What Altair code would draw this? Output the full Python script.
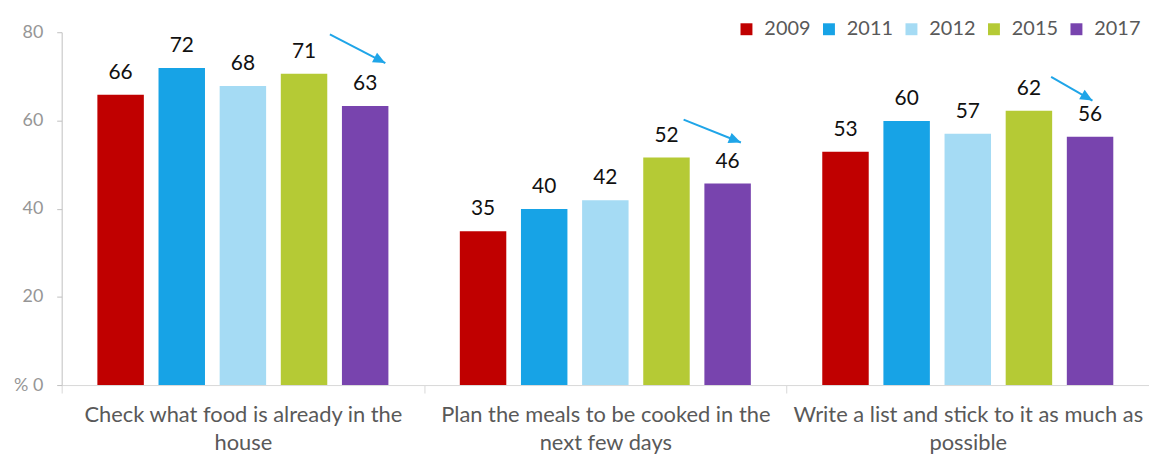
import math
import altair as alt
import pandas as pd

categories = [
    "Check what food is already in the house",
    "Plan the meals to be cooked in the next few days",
    "Write a list and stick to it as much as possible",
]
label_lines = [
    ["Check what food is already in the", "house"],
    ["Plan the meals to be cooked in the", "next few days"],
    ["Write a list and stick to it as much as", "possible"],
]
years = ["2009", "2011", "2012", "2015", "2017"]
colors = ["#C00000", "#17A3E6", "#A5DBF4", "#B5CA35", "#7844AE"]

v2009 = [65.8, 34.9, 52.9]
v2011 = [71.9, 39.9, 59.9]
v2012 = [67.8, 41.9, 57.0]
v2015 = [70.6, 51.6, 62.2]
v2017 = [63.3, 45.7, 56.3]

# trend arrows (data units: x = category index from 0 to 3, y = %)
arrow_x0 = [0.740, 1.716, 2.730]
arrow_y0 = [79.5, 60.2, 69.9]
arrow_x1 = [0.893, 1.874, 2.844]
arrow_y1 = [73.0, 55.0, 64.5]

W, H = 1094, 355
FONT = "Lato"

rows = []
for yr, vals in zip(years, [v2009, v2011, v2012, v2015, v2017]):
    for c, v in zip(categories, vals):
        rows.append({"category": c, "year": yr, "value": v})
df = pd.DataFrame(rows)

line_rows, tip_rows = [], []
for i in range(3):
    line_rows.append({"id": i, "order": 0, "ax": arrow_x0[i], "ay": arrow_y0[i]})
    line_rows.append({"id": i, "order": 1, "ax": arrow_x1[i], "ay": arrow_y1[i]})
    ang = math.degrees(math.atan2((arrow_y0[i] - arrow_y1[i]) * H / 80,
                                  (arrow_x1[i] - arrow_x0[i]) * W / 3))
    tip_rows.append({"id": i, "ax": arrow_x1[i], "ay": arrow_y1[i], "ang": ang})
lines_df = pd.DataFrame(line_rows)
tips_df = pd.DataFrame(tip_rows)

label_expr = " : ".join(
    f"datum.value == {c!r} ? {l!r}" for c, l in zip(categories, label_lines)
) + " : datum.label"

x_scale = alt.Scale(domain=categories, paddingInner=0, paddingOuter=0)
y_scale = alt.Scale(domain=[0, 80], nice=False)

x_enc = alt.X(
    "category:N",
    scale=x_scale,
    axis=alt.Axis(
        title=None, labelAngle=0, labelExpr=label_expr, labelFontSize=22,
        labelColor="#595959", labelFont=FONT, labelLineHeight=28,
        labelPadding=12, tickBand="extent", tickSize=8, tickColor="#d9d9d9",
        domainColor="#d9d9d9", labelLimit=400, grid=False,
    ),
)
xoff = alt.XOffset(
    "year:N", scale=alt.Scale(domain=years, paddingInner=0.24, paddingOuter=0.584)
)
y_enc = alt.Y(
    "value:Q",
    scale=y_scale,
    axis=alt.Axis(
        title=None, values=[0, 20, 40, 60, 80], grid=False,
        labelExpr="datum.value == 0 ? '% 0' : datum.label",
        labelFontSize=18, labelColor="#969696", labelFont=FONT,
        labelPadding=14, tickSize=5, tickColor="#bfbfbf", domainColor="#bfbfbf",
    ),
)

bars = alt.Chart(df).mark_bar().encode(
    x=x_enc,
    xOffset=xoff,
    y=y_enc,
    color=alt.Color(
        "year:N",
        scale=alt.Scale(domain=years, range=colors),
        legend=alt.Legend(
            title=None, orient="none", direction="horizontal",
            legendX=679, legendY=-13, symbolType="square", symbolSize=144,
            symbolStrokeWidth=0, labelFontSize=20, labelColor="#595959",
            labelFont=FONT, columnPadding=8, labelOffset=8, padding=0,
        ),
    ),
)

texts = alt.Chart(df).mark_text(
    baseline="alphabetic", dy=-16, fontSize=21, font=FONT, color="#111111"
).encode(
    x=alt.X("category:N", scale=x_scale),
    xOffset=xoff,
    y=alt.Y("value:Q", scale=y_scale),
    text=alt.Text("value:Q", format=".0f"),
)

base = alt.layer(bars, texts)

ax = alt.X("ax:Q", scale=alt.Scale(domain=[0, 3], nice=False, zero=False), axis=None)
ay = alt.Y("ay:Q", scale=alt.Scale(domain=[0, 80], nice=False), axis=None)

arrow_lines = alt.Chart(lines_df).mark_line(color="#1FA5E8", strokeWidth=2).encode(
    x=ax, y=ay, detail="id:N", order="order:Q"
)
arrow_tips = alt.Chart(tips_df).mark_point(
    shape="M0,0L-2,-0.9L-2,0.9Z", filled=True, size=150, opacity=1, color="#1FA5E8"
).encode(x=ax, y=ay, angle=alt.Angle("ang:Q", scale=None))

arrows = alt.layer(arrow_lines, arrow_tips)

chart = (
    alt.layer(base, arrows)
    .resolve_scale(x="independent", y="independent")
    .properties(
        width=W, height=H,
        autosize=alt.AutoSizeParams(type="none"),
        padding={"left": 54, "top": 23, "right": 0, "bottom": 70},
    )
    .configure_view(stroke=None)
)

chart.save("out.html", embed_options={"renderer": "svg", "actions": False})
